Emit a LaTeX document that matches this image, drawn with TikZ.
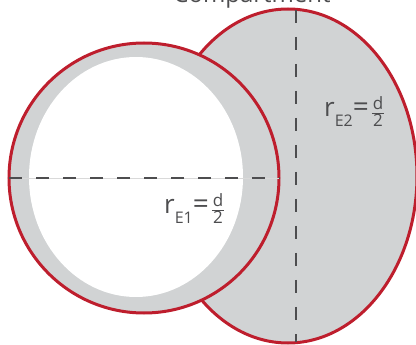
\documentclass[tikz,border=0pt]{standalone}
\usepackage{fontspec}
\setmainfont{Open Sans}
\usepackage{xcolor}
\definecolor{wallred}{HTML}{BE1E2D}
\definecolor{cellgray}{HTML}{D1D3D4}
\definecolor{labelgray}{HTML}{4D4D4F}

% radius label: r, lowered subscript, equals sign, d over 2
\newcommand{\radlabel}[1]{%
  {\fontsize{26}{26}\selectfont r}%
  \raisebox{-10pt}{\fontsize{16}{16}\selectfont #1}%
  {\fontsize{28}{28}\selectfont =}\hspace{3pt}%
  \raisebox{-1pt}{\setlength{\arrayrulewidth}{1pt}\setlength{\tabcolsep}{1pt}%
    \fontsize{17}{15}\selectfont
    \begin{tabular}{c}d\\[-1pt]\hline 2\end{tabular}}}

\begin{document}
\begin{tikzpicture}[x=1pt, y=-1pt,
    wall/.style={draw=wallred, line width=3pt, fill=cellgray},
    axis/.style={draw=labelgray, line width=1.8pt, dash pattern=on 13pt off 14pt},
    guide/.style={draw=black!15, line width=0.6pt},
    label/.style={text=labelgray, inner sep=0pt, font=\fontsize{24}{24}\selectfont}
]
\useasboundingbox (0,0) rectangle (416,345);

% centres
\coordinate (ctwo) at (288,176);
\coordinate (cone) at (144,178);
\coordinate (lumen) at (136,177);

% second compartment
\path[wall] (ctwo) ellipse [x radius=129, y radius=167];
% first compartment
\path[wall] (cone) circle [radius=135];
\fill[white] (lumen) ellipse [x radius=107, y radius=120];

% diameters
\coordinate (hleft) at (9,178);
\coordinate (hright) at (280,178);
\coordinate (vtop) at (296,10);
\coordinate (vbot) at (296,342);
\draw[guide] (hleft) -- (hright);
\draw[axis] (hleft) -- (hright);
\draw[axis] (vtop) -- (vbot);

% labels
\node[label, anchor=base] (title) at (252,3) {Compartment};
\node[label, anchor=base west] (rone) at (164,214) {\radlabel{E1}};
\node[label, anchor=base west] (rtwo) at (324,117) {\radlabel{E2}};
\end{tikzpicture}
\end{document}
